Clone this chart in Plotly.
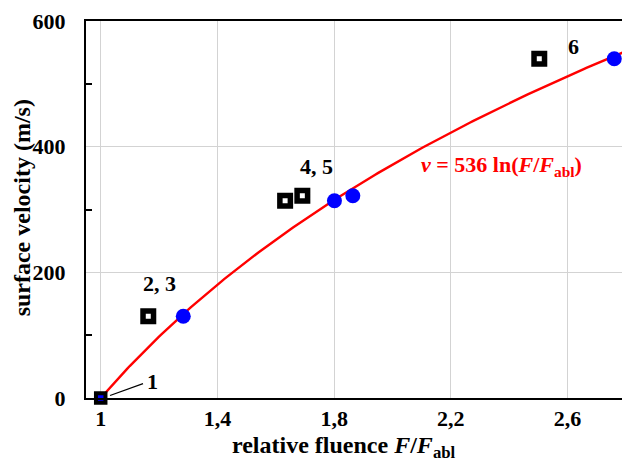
import numpy as np
import plotly.graph_objects as go

# Data
circle_x = [1.0, 1.283, 1.801, 1.864, 2.760]
circle_y = [0, 130, 314, 322, 540]
square_x = [1.163, 1.632, 1.691, 2.503]
square_y = [130, 314, 322, 540]
origin_x = [1.0]
origin_y = [0]
fit_coef = 536  # v = 536 ln(F/Fabl)

x_tickvals = [1, 1.4, 1.8, 2.2, 2.6]
x_ticktext = ["1", "1,4", "1,8", "2,2", "2,6"]
y_tickvals = [0, 200, 400, 600]
y_ticktext = ["0", "200", "400", "600"]

labels = [("1", 1.178, 26), ("2, 3", 1.203, 183), ("4, 5", 1.740, 368), ("6", 2.620, 559)]

FONT = "Liberation Serif"

fit_x = np.linspace(1.0, 2.8, 200)
fit_y = fit_coef * np.log(fit_x)

fig = go.Figure()
fig.add_trace(go.Scatter(x=fit_x, y=fit_y, mode="lines",
                         line=dict(color="#ff0000", width=2.4), hoverinfo="skip"))
fig.add_trace(go.Scatter(x=circle_x[1:], y=circle_y[1:], mode="markers",
                         marker=dict(symbol="circle", size=15, color="#0000ff",
                                     line=dict(width=0)), cliponaxis=False))
fig.add_trace(go.Scatter(x=square_x, y=square_y, mode="markers",
                         marker=dict(symbol="square", size=10.5, color="white",
                                     line=dict(width=5.5, color="black")), cliponaxis=False))
fig.add_trace(go.Scatter(x=origin_x, y=origin_y, mode="markers",
                         marker=dict(symbol="square", size=9.5, color="#0000ff",
                                     line=dict(width=4, color="black")), cliponaxis=False))

# leader line for label 1
fig.add_shape(type="line", x0=1.032, y0=4, x1=1.145, y1=23,
              line=dict(color="black", width=1.3))

for txt, lx, ly in labels:
    fig.add_annotation(x=lx, y=ly, text=txt, showarrow=False,
                       font=dict(family=FONT, size=22, color="black", weight="bold"))

fig.add_annotation(x=2.375, y=370,
                   text="<i>v</i> = 536 ln(<i>F</i>/<i>F</i><sub>abl</sub>)",
                   showarrow=False,
                   font=dict(family=FONT, size=22, color="#ff0000", weight="bold"))

# axis titles
fig.add_annotation(xref="paper", yref="paper", x=(343.5 - 86) / 536, y=-0.131,
                   text="relative fluence <i>F</i>/<i>F</i><sub>abl</sub>",
                   showarrow=False, xanchor="center", yanchor="middle",
                   font=dict(family=FONT, size=24, color="black", weight="bold"))
fig.add_annotation(xref="paper", yref="paper", x=(22 - 86) / 536, y=0.503,
                   text="surface velocity (m/s)", textangle=-90,
                   showarrow=False, xanchor="center", yanchor="middle",
                   font=dict(family=FONT, size=24, color="black", weight="bold"))

fig.update_layout(
    width=622, height=465,
    margin=dict(l=86, r=0, t=21, b=67),
    paper_bgcolor="white", plot_bgcolor="white",
    showlegend=False,
    xaxis=dict(range=[0.9496, 2.7865], tickvals=x_tickvals, ticktext=x_ticktext,
               showgrid=True, gridcolor="#d3d3d3", gridwidth=1,
               showline=True, linecolor="black", linewidth=2, mirror=True,
               ticks="", zeroline=False,
               tickfont=dict(family=FONT, size=22, color="black", weight="bold")),
    yaxis=dict(range=[0, 600], tickvals=y_tickvals, ticktext=y_ticktext,
               showgrid=True, gridcolor="#d3d3d3", gridwidth=1,
               showline=True, linecolor="black", linewidth=2,
               ticks="", zeroline=False, ticklabelstandoff=14,
               minor=dict(tickvals=[100, 300, 500], ticks="inside", ticklen=6,
                          tickcolor="black", tickwidth=1.5, showgrid=False),
               tickfont=dict(family=FONT, size=22, color="black", weight="bold")),
)

fig.write_html("out.html")
